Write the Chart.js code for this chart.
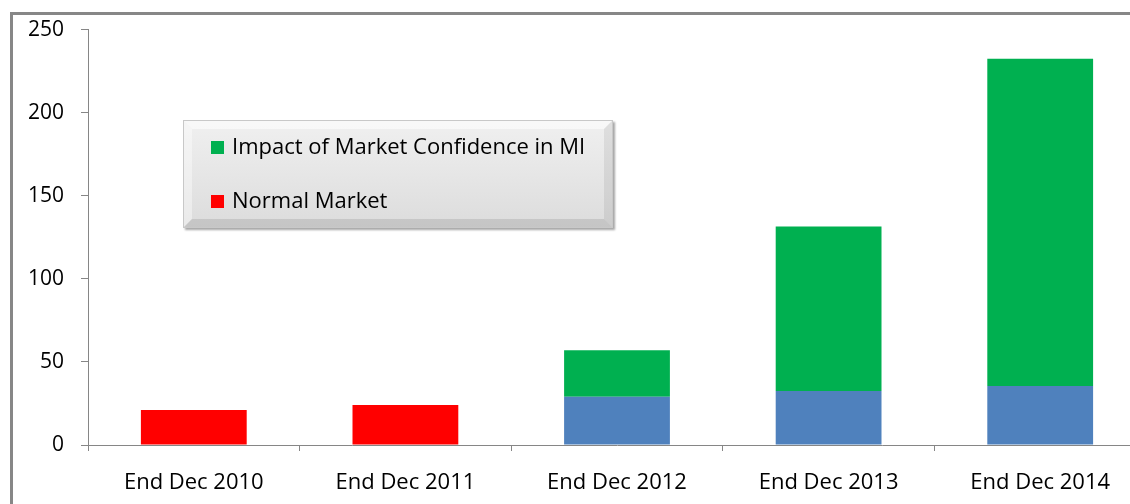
<!DOCTYPE html>
<html>
<head>
<meta charset="utf-8">
<script src="https://cdn.jsdelivr.net/npm/chart.js@4"></script>
<style>
  html, body { margin: 0; padding: 0; background: #fff; overflow: hidden; }
  #wrap { position: relative; width: 1146px; height: 504px; }
</style>
</head>
<body>
<div id="wrap"><canvas id="market-chart"></canvas></div>
<script>
var categories = ["End Dec 2010", "End Dec 2011", "End Dec 2012", "End Dec 2013", "End Dec 2014"];
var normalMarket = [21, 24, 29, 32.5, 35.5];
var marketConfidence = [0, 0, 28, 99, 197];
var normalColors = ["#ff0000", "#ff0000", "#4f81bd", "#4f81bd", "#4f81bd"];
var yTicks = [0, 50, 100, 150, 200, 250];

var FONT = "'Open Sans', sans-serif";

// grey frame round the chart (left and top edges only are visible)
var framePlugin = {
  id: "frame",
  beforeDraw: function (chart) {
    var c = chart.ctx;
    c.save();
    c.fillStyle = "#878787";
    c.fillRect(10, 12, 3, 600);
    c.fillRect(10, 12, 1300, 3);
    c.restore();
  },
};

// bevelled legend box drawn inside the plot
var boxLegend = {
  id: "boxLegend",
  afterDraw: function (chart) {
    var c = chart.ctx;
    var x = 183, y = 120, w = 430, h = 108, b = 9;
    c.save();
    c.shadowColor = "rgba(0,0,0,0.35)";
    c.shadowOffsetX = 2;
    c.shadowOffsetY = 2;
    c.shadowBlur = 2;
    var g = c.createLinearGradient(0, y, 0, y + h);
    g.addColorStop(0, "#f0f0f0");
    g.addColorStop(1, "#dcdcdc");
    c.fillStyle = g;
    c.fillRect(x, y, w, h);
    c.shadowColor = "transparent";
    // bevel edges
    function quad(p, col) {
      c.beginPath();
      c.moveTo(p[0], p[1]); c.lineTo(p[2], p[3]); c.lineTo(p[4], p[5]); c.lineTo(p[6], p[7]);
      c.closePath();
      c.fillStyle = col;
      c.fill();
    }
    quad([x, y, x + w, y, x + w - b, y + b, x + b, y + b], "rgba(255,255,255,0.55)");
    quad([x, y, x + b, y + b, x + b, y + h - b, x, y + h], "rgba(255,255,255,0.4)");
    quad([x + w, y, x + w, y + h, x + w - b, y + h - b, x + w - b, y + b], "rgba(0,0,0,0.07)");
    quad([x, y + h, x + w, y + h, x + w - b, y + h - b, x + b, y + h - b], "rgba(0,0,0,0.1)");
    c.strokeStyle = "#c8c8c8";
    c.lineWidth = 1;
    c.strokeRect(x + 0.5, y + 0.5, w - 1, h - 1);

    var items = [
      { label: chart.data.datasets[1].label, color: chart.data.datasets[1].backgroundColor },
      { label: chart.data.datasets[0].label, color: normalColors[0] },
    ];
    c.font = "22px " + FONT;
    c.textBaseline = "middle";
    c.textAlign = "left";
    items.forEach(function (it, i) {
      var cy = 148 + i * 54;
      c.fillStyle = it.color;
      c.fillRect(211, cy - 7, 13, 13);
      c.fillStyle = "#000";
      c.fillText(it.label, 232, cy);
    });
    c.restore();
  },
};

var ctx = document.getElementById("market-chart").getContext("2d");
var chart = new Chart(ctx, {
  type: "bar",
  data: {
    labels: categories,
    datasets: [
      {
        label: "Normal Market",
        data: normalMarket,
        backgroundColor: normalColors,
      },
      {
        label: "Impact of Market Confidence in MI",
        data: marketConfidence,
        backgroundColor: "#00b050",
      },
    ],
  },
  options: {
    responsive: true,
    maintainAspectRatio: false,
    animation: false,
    layout: { padding: { top: 28, left: 0, right: 0, bottom: 0 } },
    plugins: {
      legend: { display: false },
      tooltip: { enabled: false },
    },
    datasets: {
      bar: { categoryPercentage: 1, barPercentage: 0.5 },
    },
    scales: {
      x: {
        stacked: true,
        grid: { drawOnChartArea: false, drawTicks: true, tickLength: 6, color: "#868686", offset: true },
        border: { display: true, color: "#868686", width: 1 },
        ticks: { color: "#000", font: { family: FONT, size: 22 }, padding: 19, maxRotation: 0 },
        afterFit: function (s) { s.height = 59; },
      },
      y: {
        stacked: true,
        min: 0,
        max: 250,
        afterBuildTicks: function (s) { s.ticks = yTicks.map(function (v) { return { value: v }; }); },
        grid: { drawOnChartArea: false, drawTicks: true, tickLength: 7, color: "#868686" },
        border: { display: true, color: "#868686", width: 1 },
        ticks: { color: "#000", font: { family: FONT, size: 21 }, padding: 17 },
        afterFit: function (s) { s.width = 88; },
      },
    },
  },
  plugins: [framePlugin, boxLegend],
});
</script>
</body>
</html>
